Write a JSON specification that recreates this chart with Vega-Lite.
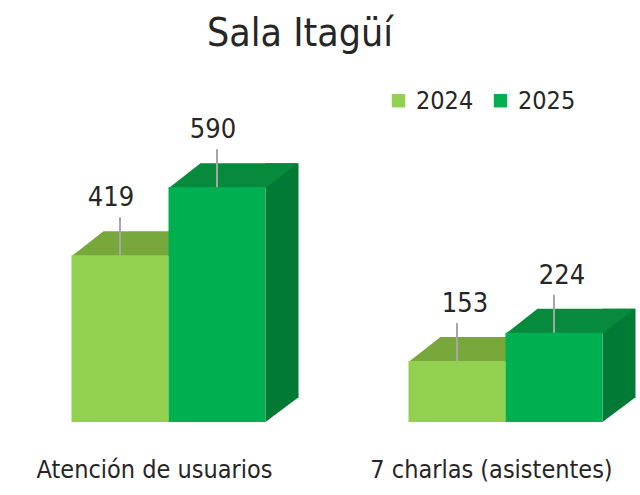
{
  "$schema": "https://vega.github.io/schema/vega-lite/v6.json",
  "autosize": {"type": "none"},
  "width": 600,
  "height": 362,
  "padding": {"left": 37, "top": 60, "right": 3, "bottom": 73},
  "background": "white",
  "title": {
    "text": "Sala Itagüí",
    "font": "DejaVu Sans Condensed, sans-serif",
    "fontSize": 39,
    "fontWeight": "normal",
    "color": "#262626",
    "anchor": "middle",
    "dx": -37,
    "offset": 6
  },
  "config": {
    "view": {"stroke": null},
    "font": "DejaVu Sans Condensed, sans-serif"
  },
  "data": {
    "values": [
      {"categoria": "Atención de usuarios", "anio": "2024", "valor": 419},
      {"categoria": "Atención de usuarios", "anio": "2025", "valor": 590},
      {"categoria": "7 charlas (asistentes)", "anio": "2024", "valor": 153},
      {"categoria": "7 charlas (asistentes)", "anio": "2025", "valor": 224}
    ]
  },
  "encoding": {
    "x": {
      "field": "categoria",
      "type": "nominal",
      "sort": null,
      "scale": {"paddingInner": 0.4243, "paddingOuter": 0.1024},
      "axis": {
        "title": null,
        "domain": false,
        "ticks": false,
        "labelAngle": 0,
        "labelFontSize": 25,
        "labelLimit": 0,
        "labelColor": "#262626",
        "labelPadding": 35,
        "labelOffset": -14
      }
    },
    "y": {
      "field": "valor",
      "type": "quantitative",
      "scale": {"domain": [0, 909.5], "nice": false},
      "axis": null
    }
  },
  "layer": [
    {
      "transform": [{"filter": "datum.anio == '2025'"}],
      "mark": {"type": "rule", "xOffset": 16.5, "yOffset": -24, "strokeWidth": 33, "strokeCap": "butt", "color": "#007a34"},
      "encoding": {
        "x": {"field": "categoria", "type": "nominal", "sort": null, "bandPosition": 1},
        "y2": {"datum": 0}
      }
    },
    {
      "mark": {
        "type": "point",
        "shape": "M 0.485 0 L 0.805 -0.24 L 0.83 -0.24 L 0.83 0.012 L 0.485 0.012 Z",
        "size": 40000,
        "filled": true,
        "opacity": 1,
        "strokeWidth": 0
      },
      "encoding": {
        "xOffset": {"field": "anio", "type": "nominal", "scale": {"paddingInner": 0, "paddingOuter": 0}},
        "y": {"datum": 0},
        "color": {"value": "white"}
      }
    },
    {
      "mark": {
        "type": "point",
        "shape": "M -0.485 0.01 L 0.485 0.01 L 0.805 -0.24 L -0.165 -0.24 Z",
        "size": 40000,
        "filled": true,
        "opacity": 1,
        "strokeWidth": 0
      },
      "encoding": {
        "xOffset": {"field": "anio", "type": "nominal"},
        "color": {
          "condition": {"test": "datum.anio == '2024'", "value": "#78a83c"},
          "value": "#078a3c"
        }
      }
    },
    {
      "mark": {"type": "bar"},
      "encoding": {
        "xOffset": {"field": "anio", "type": "nominal"},
        "color": {
          "field": "anio",
          "type": "nominal",
          "scale": {"domain": ["2024", "2025"], "range": ["#92d050", "#00b050"]},
          "legend": {
            "title": null,
            "orient": "none",
            "legendX": 349,
            "legendY": 28,
            "direction": "horizontal",
            "symbolType": "square",
            "symbolSize": 180,
            "symbolStrokeWidth": 0,
            "labelFontSize": 25,
            "labelColor": "#262626",
            "labelOffset": 5,
            "columnPadding": 14
          }
        }
      }
    },
    {
      "mark": {"type": "rule", "y2Offset": -38, "color": "#a6a6a6", "strokeWidth": 2},
      "encoding": {
        "xOffset": {"field": "anio", "type": "nominal"},
        "y2": {"field": "valor"}
      }
    },
    {
      "mark": {
        "type": "text",
        "dy": -57,
        "dx": {"expr": "datum.categoria == 'Atención de usuarios' ? (datum.anio == '2024' ? -9 : -4) : 8"},
        "baseline": "middle",
        "fontSize": 27,
        "color": "#262626"
      },
      "encoding": {
        "xOffset": {"field": "anio", "type": "nominal"},
        "text": {"field": "valor", "type": "quantitative"}
      }
    }
  ]
}
